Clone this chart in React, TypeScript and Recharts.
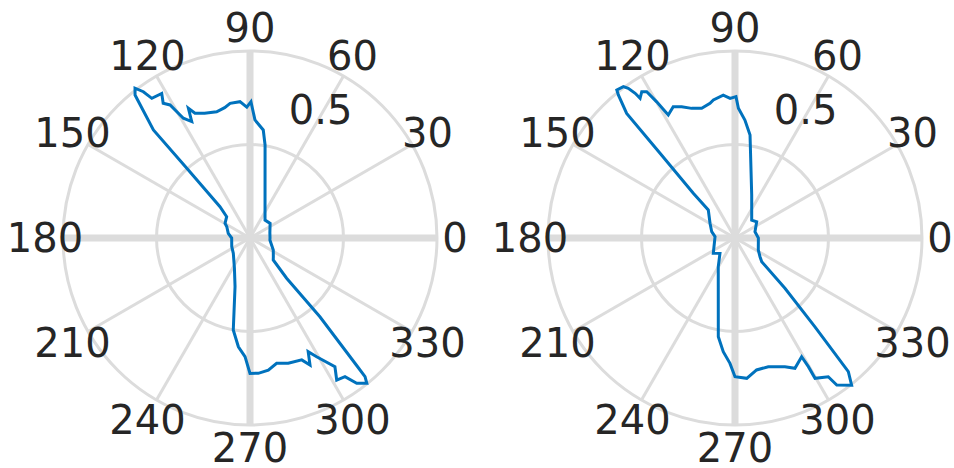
import { PolarAngleAxis, PolarGrid, PolarRadiusAxis, Radar, RadarChart } from 'recharts';

// angle (deg) / radius pairs, in path order
const thetaLeft = [
  0, 15, 36, 50, 80.8, 83, 87.6, 89.6, 91.4, 94.2, 98.4, 101, 104.8, 110, 113.8, 115.4,
  116.6, 119.1, 121, 122.8, 121.4, 125.1, 126.1, 127.5, 128.8, 131.8, 132.2, 133.8,
  137.6, 149.5, 154, 167.8, 180, 205.4, 222.5, 242.4, 252.9, 259.7, 263.9, 267.6, 270,
  273.5, 277.9, 282, 287, 293, 295.3, 297.1, 299.3, 303.4, 301.4, 304.4, 306.3, 308.8,
  309.7, 309.9, 311.6, 312.3, 316.6, 321.3, 332.8, 354,
];
const rLeft = [
  0.107, 0.11, 0.133, 0.125, 0.504, 0.582, 0.632, 0.729, 0.7, 0.731, 0.728, 0.71, 0.698,
  0.71, 0.729, 0.768, 0.696, 0.733, 0.83, 0.857, 0.906, 0.913, 0.968, 1.01, 0.981, 0.775,
  0.503, 0.232, 0.169, 0.155, 0.138, 0.119, 0.098, 0.108, 0.121, 0.18, 0.272, 0.5, 0.585,
  0.635, 0.724, 0.725, 0.713, 0.685, 0.7, 0.708, 0.751, 0.683, 0.728, 0.825, 0.89, 0.899,
  0.964, 0.997, 0.963, 0.894, 0.563, 0.291, 0.171, 0.16, 0.14, 0.107,
];

const thetaRight = [
  0, 17.5, 36.9, 47, 68.8, 81.7, 85.2, 88.5, 89.6, 92, 94.7, 98.9, 100.5, 104.4, 108.5,
  112.1, 115.2, 118.5, 119.9, 121.1, 122.5, 124.2, 124.6, 125.5, 126.4, 128.6, 129.2, 131,
  131.5, 133, 133.6, 149.5, 164.9, 176, 215.2, 225.6, 239.8, 260.4, 264.1, 267.7, 270,
  274.8, 279.3, 284.5, 291.2, 294.7, 299.3, 299.7, 299.7, 303.9, 304.7, 308.4, 310.3, 312,
  314.8, 318.4, 323.2, 332.8,
];
const rRight = [
  0.125, 0.112, 0.145, 0.131, 0.247, 0.557, 0.633, 0.694, 0.756, 0.747, 0.767, 0.747,
  0.733, 0.716, 0.731, 0.758, 0.776, 0.748, 0.84, 0.914, 0.928, 0.903, 0.94, 0.983, 1.006,
  1.013, 0.987, 0.883, 0.605, 0.327, 0.207, 0.155, 0.129, 0.107, 0.142, 0.115, 0.178,
  0.535, 0.611, 0.671, 0.742, 0.753, 0.715, 0.711, 0.738, 0.767, 0.728, 0.792, 0.864,
  0.894, 0.956, 1.004, 0.937, 0.639, 0.379, 0.191, 0.167, 0.14,
];

const angleTicks = [0, 30, 60, 90, 120, 150, 180, 210, 240, 270, 300, 330];
const mainAngles = [0, 90, 180, 270];
const radiusTicks = [0, 0.5, 1];

const GRID = '#dcdcdc';
const LINE = '#0072BD';
const TEXT = '#262626';
const FONT = 'DejaVu Sans';

const renderAngleTick = (p: any) => {
  const a = (p.payload.coordinate * Math.PI) / 180;
  return (
    <text
      x={p.x}
      y={p.y - 5 * Math.sin(a)}
      textAnchor='middle'
      dominantBaseline='central'
      fontFamily={FONT}
      fontSize={40}
      fill={TEXT}
    >
      {p.payload.value}
    </text>
  );
};

const renderRadiusTick = (p: any) => {
  if (p.payload.value !== 0.5) return <g />;
  return (
    <text
      x={p.x + 25}
      y={p.y - 46}
      textAnchor='middle'
      dominantBaseline='central'
      fontFamily={FONT}
      fontSize={40}
      fill={TEXT}
    >
      0.5
    </text>
  );
};

function PolarPanel({ theta, r, cx }: { theta: number[]; r: number[]; cx: number }) {
  const data = theta.map((t, i) => ({ theta: t, r: r[i] }));
  return (
    <RadarChart
      width={477}
      height={468}
      cx={cx}
      cy={238}
      outerRadius={187}
      startAngle={0}
      endAngle={360}
      data={data}
      margin={{ top: 0, right: 0, bottom: 0, left: 0 }}
    >
      <PolarGrid gridType='circle' stroke={GRID} strokeWidth={3} />
      <PolarGrid
        gridType='circle'
        polarAngles={mainAngles}
        polarRadius={[]}
        stroke={GRID}
        strokeWidth={7}
      />
      <PolarAngleAxis
        dataKey='theta'
        type='number'
        domain={[0, 360]}
        ticks={angleTicks}
        axisLine={false}
        tickLine={false}
        tickSize={18}
        tick={renderAngleTick}
      />
      <PolarRadiusAxis
        type='number'
        domain={[0, 1]}
        ticks={radiusTicks}
        allowDataOverflow
        angle={60.8}
        axisLine={false}
        tickLine={false}
        tick={renderRadiusTick}
      />
      <Radar
        dataKey='r'
        stroke={LINE}
        strokeWidth={3}
        fill='none'
        fillOpacity={0}
        dot={false}
        isAnimationActive={false}
      />
    </RadarChart>
  );
}

export default function App() {
  return (
    <div style={{ position: 'absolute', left: 0, top: 0, width: 954, height: 468, display: 'flex', background: '#fff' }}>
      <PolarPanel theta={thetaLeft} r={rLeft} cx={250} />
      <PolarPanel theta={thetaRight} r={rRight} cx={258} />
    </div>
  );
}
